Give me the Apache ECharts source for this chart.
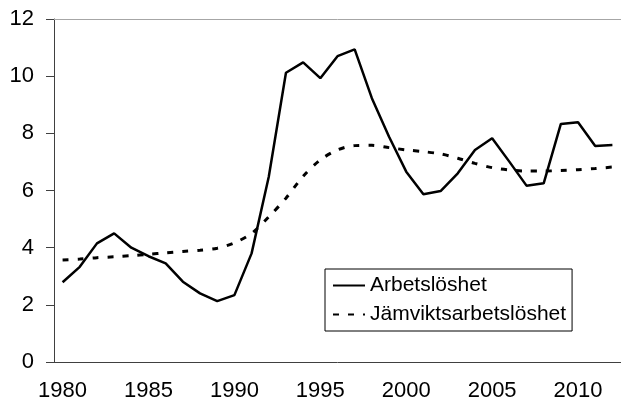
<!DOCTYPE html>
<html>
<head>
<meta charset="utf-8">
<script src="https://cdn.jsdelivr.net/npm/echarts@6/dist/echarts.min.js"></script>
<style>
  html, body { margin: 0; padding: 0; background: #fff; }
  #chart { width: 621px; height: 410px; }
</style>
</head>
<body>
<div id="chart"></div>
<script>
// years 1980-2012
var years = [];
for (var y = 1980; y <= 2012; y++) years.push(String(y));

var arbetsloshet = [
  2.79, 3.33, 4.15, 4.5, 4.0, 3.7, 3.45, 2.81, 2.4, 2.13,
  2.34, 3.8, 6.48, 10.12, 10.48, 9.93, 10.7, 10.94, 9.23, 7.88,
  6.66, 5.87, 5.98, 6.6, 7.42, 7.83, 7.01, 6.17, 6.25, 8.33,
  8.39, 7.56, 7.59
];

var jamvikt = [
  3.57, 3.6, 3.65, 3.68, 3.72, 3.77, 3.82, 3.87, 3.91, 3.98,
  4.17, 4.5, 5.08, 5.73, 6.5, 7.07, 7.42, 7.57, 7.58, 7.5,
  7.42, 7.36, 7.28, 7.13, 6.95, 6.8, 6.72, 6.68, 6.68, 6.7,
  6.73, 6.77, 6.82
];

var yTicks = { min: 0, max: 12, interval: 2 };

var axisColor = '#404040';
var font = 'Liberation Sans, Arial, sans-serif';

var chart = echarts.init(document.getElementById('chart'), null, { renderer: 'canvas' });

chart.setOption({
  animation: false,
  backgroundColor: '#fff',
  textStyle: { fontFamily: font },
  grid: { left: 54, top: 19, width: 572, height: 343 },
  legend: {
    left: 325,
    top: 269,
    orient: 'vertical',
    itemWidth: 32,
    itemHeight: 14,
    itemGap: 8,
    padding: [6, 6, 6, 7],
    borderColor: '#000',
    borderWidth: 1,
    borderRadius: 0,
    itemStyle: { opacity: 0 },
    textStyle: { fontSize: 21, color: '#000', fontFamily: font },
    data: ['Arbetslöshet', 'Jämviktsarbetslöshet']
  },
  xAxis: [
    {
      type: 'category',
      data: years,
      boundaryGap: true,
      axisLine: { lineStyle: { color: axisColor, width: 1 } },
      axisTick: { interval: 4, length: 8, lineStyle: { color: axisColor } },
      axisLabel: { interval: 4, fontSize: 22, color: '#000', margin: 18, fontFamily: font },
      splitLine: { show: false }
    },
    {
      type: 'category',
      data: years,
      position: 'top',
      axisLine: { lineStyle: { color: '#a6a6a6', width: 1 } },
      axisTick: { show: false },
      axisLabel: { show: false },
      splitLine: { show: false }
    }
  ],
  yAxis: {
    type: 'value',
    min: yTicks.min,
    max: yTicks.max,
    interval: yTicks.interval,
    axisLine: { show: true, lineStyle: { color: axisColor, width: 1 } },
    axisTick: { show: true, length: 8, lineStyle: { color: axisColor } },
    axisLabel: { fontSize: 22, color: '#000', margin: 20, fontFamily: font },
    splitLine: { show: false }
  },
  series: [
    {
      name: 'Arbetslöshet',
      type: 'line',
      data: arbetsloshet,
      symbol: 'none',
      lineStyle: { color: '#000', width: 2.5 },
      itemStyle: { color: '#000' }
    },
    {
      name: 'Jämviktsarbetslöshet',
      type: 'line',
      data: jamvikt,
      symbol: 'none',
      smooth: 0.3,
      lineStyle: { color: '#000', width: 3, type: [6, 9] },
      itemStyle: { color: '#000' }
    }
  ]
});
window.addEventListener('resize', function() { chart.resize(); });
</script>
</body>
</html>
